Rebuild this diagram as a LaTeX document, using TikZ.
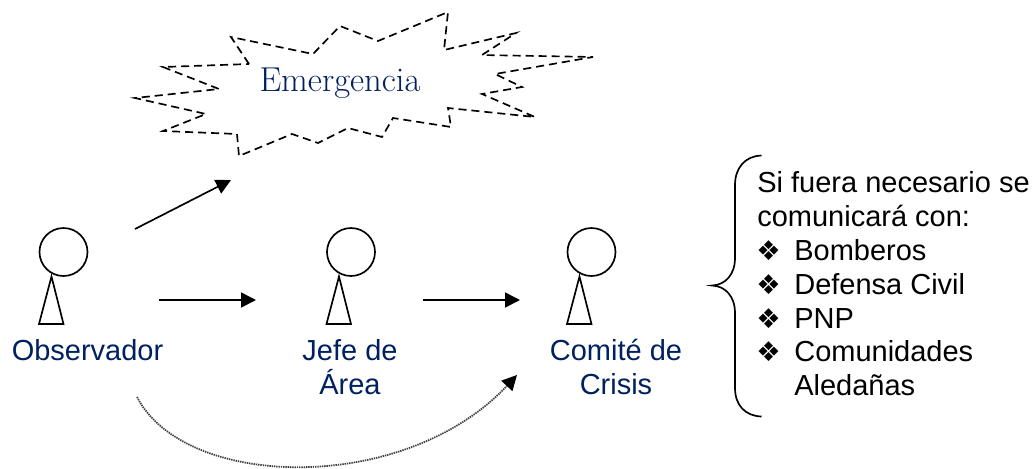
\documentclass[tikz,border=0pt]{standalone}
\usepackage{fontspec}
\setsansfont{Liberation Sans}
\newfontfamily\dejavu{DejaVu Sans}
\usetikzlibrary{arrows.meta}
\definecolor{navy}{RGB}{0,32,96}
\newcommand{\bul}{\makebox[37\psize][l]{\hspace*{-1\psize}\dejavu\fontsize{15.5}{19.3}\selectfont\char"2756}}
\newlength{\psize}
\setlength{\psize}{0.02cm}
\tikzset{
	flecha/.style = {line width = 0.95pt, -{Triangle[length = 8.5pt, width = 8.5pt]}},
	punteada/.style = {line width = 1pt, black!75, dash pattern = on 0.8pt off 0.5pt, -{Triangle[length = 8.5pt, width = 8.5pt, black]}},
	cabeza/.style = {draw, circle, line width = 0.95pt, inner sep = 0pt, minimum size = 0.96cm},
	rotulo/.style = {navy, align = center, font = \sffamily\fontsize{16.5}{19}\selectfont}
}
\begin{document}
\begin{tikzpicture}[x = 0.02cm, y = -0.02cm]
\useasboundingbox (0,0) rectangle (1035,468);

\foreach \x/\nombre in {63.5/Obs, 351/Jefe, 591.5/Comite} {
	\begin{scope}[xshift = \x * 0.02 cm]
	\node[cabeza] (Cabeza\nombre) at (0, 252) {};
	\draw[line width = 0.95pt] (-12, 276.5) -- (-24.5, 324) -- (0, 324) -- cycle;
	\end{scope}
}

\node[rotulo] (Obs) at (87.5, 350) {Observador};
\node[rotulo] (Jefe) at (350, 367) {Jefe de\\Área};
\node[rotulo] (Comite) at (616, 367) {Comité de\\Crisis};

\node[navy, font = \fontsize{19.7}{22}\selectfont] (Emergencia) at (340, 83) {Emergencia};

\draw[dashed, dash pattern = on 4.6pt off 2.8pt, line width = 0.95pt] (249,64) -- (231,37) -- (313,54) -- (340,26) -- (378,41) -- (448,12) -- (444,50) -- (516,33) -- (482,55) -- (593,57) -- (495,74) -- (522,87) -- (482,94) -- (535,117) -- (448,108) -- (451,127) -- (393,118) -- (382,137) -- (348,128) -- (318,143) -- (292,134) -- (239,156) -- (237,134) -- (163,131) -- (206,114) -- (135,98) -- (219,89) -- (163,67) -- cycle;

\coordinate (SalidaA) at (135,229);
\coordinate (LlegadaA) at (231,180);
\coordinate (SalidaB) at (159,300);
\coordinate (LlegadaB) at (256,300);
\coordinate (SalidaC) at (423,300);
\coordinate (LlegadaC) at (520,300);
\coordinate (SalidaD) at (137,397);
\coordinate (LlegadaD) at (517,375);

\draw[flecha] (SalidaA) -- (LlegadaA);
\draw[flecha] (SalidaB) -- (LlegadaB);
\draw[flecha] (SalidaC) -- (LlegadaC);
\draw[punteada] (SalidaD) .. controls (185,490) and (405,495) .. (LlegadaD);

\draw[line width = 0.95pt] (761.5,155.5) .. controls (745,156) and (735,168) .. (735,185) -- (735,258) .. controls (735,275) and (725,285) .. (712,285.5) .. controls (725,286) and (735,296) .. (735,313) -- (735,388) .. controls (735,405) and (745,416) .. (761.5,416.5);

\node[anchor = north west, inner sep = 0pt, align = left, font = \sffamily\fontsize{16.5}{19.3}\selectfont] (Lista) at (757, 171) {Si fuera necesario se\\comunicará con:\\\bul Bomberos\\\bul Defensa Civil\\\bul PNP\\\bul Comunidades\\\hspace*{37\psize}Aledañas};

\end{tikzpicture}
\end{document}
